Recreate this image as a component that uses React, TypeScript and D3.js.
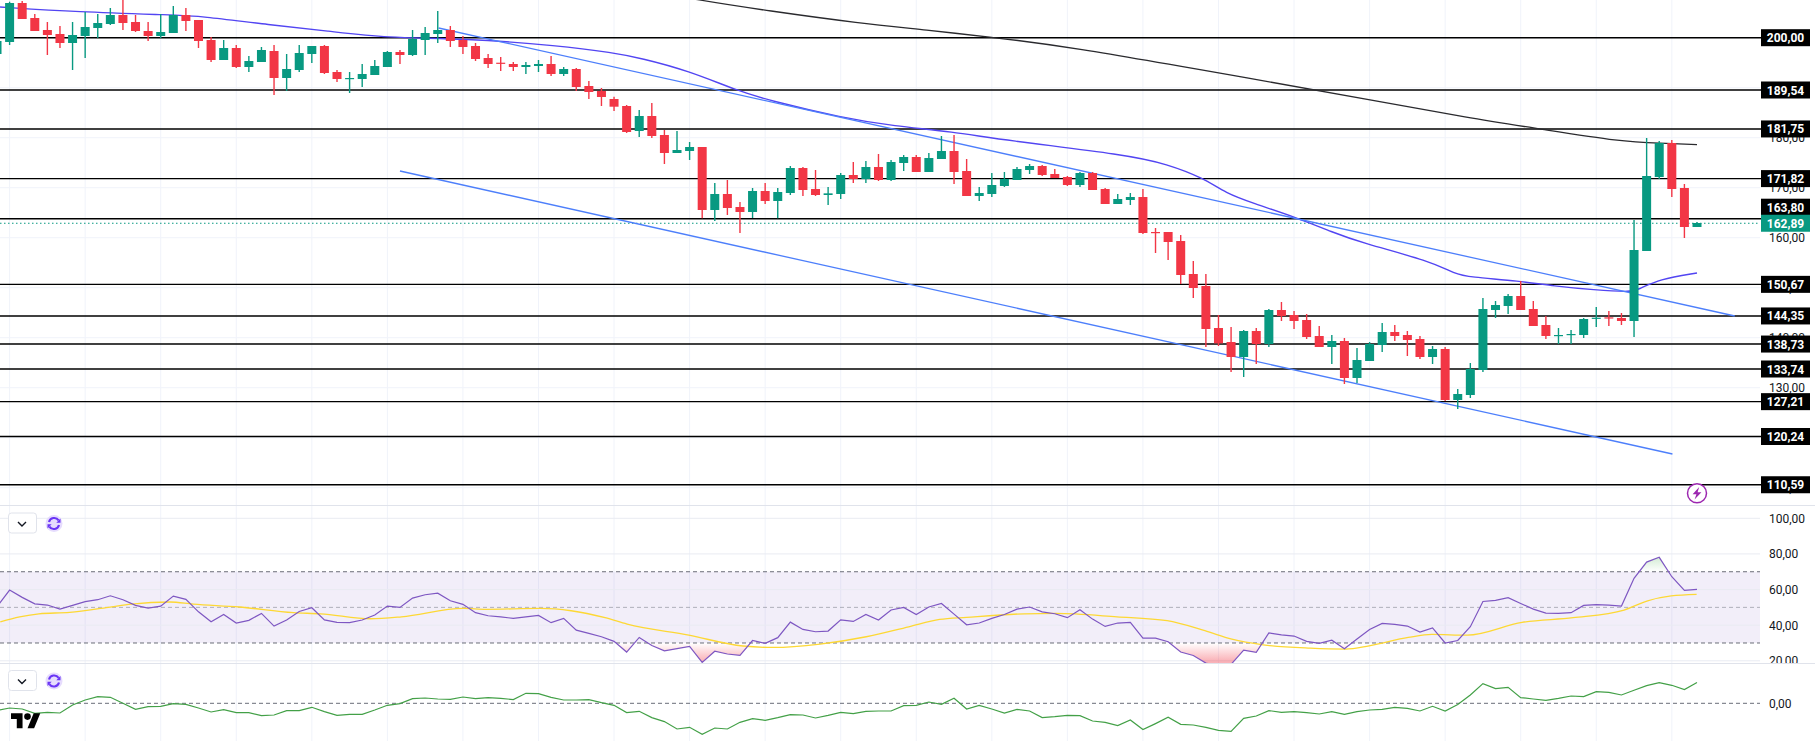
import React from 'react';
import * as d3 from 'd3';

const W = 1815;
const H = 748;

// candles, index -1 is the one cut by the left edge
const opens = [196.74,199.14,206.94,203.94,201.54,200.74,198.94,200.34,201.94,202.74,204.54,203.14,201.34,200.34,200.94,204.54,203.54,199.54,195.54,197.94,194.14,195.14,197.34,191.94,193.54,196.74,198.34,193.14,191.8,191.74,192.54,194.14,197.14,196.54,199.54,200.74,201.54,199.54,198.34,195.94,195.0,194.74,194.14,194.34,194.74,192.74,193.74,190.34,189.34,187.74,186.34,181.34,184.34,180.54,176.94,177.34,178.14,165.54,168.74,166.14,165.14,169.34,167.34,168.94,173.94,169.74,168.54,168.74,172.54,171.74,174.14,171.54,174.94,176.14,173.14,175.74,177.34,173.34,168.34,168.74,170.34,171.54,173.54,174.34,172.74,172.14,170.54,172.94,169.74,166.74,167.54,168.14,161.14,161.14,159.34,152.74,150.34,141.94,139.14,136.14,141.34,138.74,145.54,144.54,143.54,140.34,138.14,139.34,131.94,135.34,138.54,141.14,140.54,139.74,136.14,137.74,127.54,128.54,133.54,145.54,146.34,148.34,145.74,142.54,140.34,140.54,140.54,143.8,144.07,143.94,143.34,157.34,172.14,178.94,169.94,162.14];
const highs = [199.6,207.2,207.34,204.74,203.14,202.34,203.14,205.14,204.74,205.94,208.2,204.54,203.14,204.74,206.34,205.94,203.54,200.14,199.54,198.54,196.34,198.14,198.54,196.74,198.54,198.34,198.54,193.54,193.14,194.74,195.54,197.34,197.54,201.54,202.14,205.34,202.34,200.34,198.94,196.74,196.14,195.14,195.14,195.54,196.34,194.14,193.94,191.34,189.94,188.2,186.54,185.54,186.94,181.54,181.34,179.14,178.14,170.94,171.54,167.14,169.94,170.94,169.94,174.34,174.14,173.54,170.14,172.94,175.14,175.34,176.74,175.54,176.54,176.54,176.94,180.34,180.54,175.74,170.14,172.94,173.14,174.14,174.74,174.54,173.74,172.34,173.14,173.14,169.94,168.74,168.94,169.74,161.94,161.14,160.54,155.34,152.74,144.54,142.14,141.54,141.94,145.74,147.14,145.34,144.74,142.34,140.54,139.94,137.94,139.14,142.94,142.54,141.34,140.34,138.34,138.14,129.74,134.94,147.94,147.34,148.74,151.34,147.34,144.34,141.94,141.54,143.94,146.14,145.34,144.94,163.54,179.94,179.34,179.54,170.74,163.14];
const lows = [196.74,198.54,203.74,201.34,196.54,197.94,193.54,195.94,199.94,202.54,201.54,201.14,199.34,199.94,200.94,201.34,197.94,195.14,195.54,193.94,193.14,195.14,188.54,189.34,193.14,194.94,192.74,191.14,188.94,190.14,192.54,194.14,194.74,196.34,196.54,198.94,198.14,196.74,195.34,193.94,193.34,193.34,192.74,193.14,192.34,192.34,189.34,187.74,186.34,185.34,180.94,180.14,179.94,174.74,176.94,175.54,163.87,163.34,164.54,160.94,163.94,166.74,163.87,168.54,168.34,168.34,166.54,167.74,170.94,170.94,171.34,171.34,173.34,173.14,173.14,175.74,170.74,168.34,167.34,168.14,170.14,171.54,172.74,172.34,171.94,170.34,170.14,169.54,166.74,166.74,166.54,160.74,156.94,155.54,150.74,147.94,138.14,138.34,133.14,132.14,134.74,138.14,143.34,141.74,139.74,138.14,134.74,130.74,130.94,135.34,137.14,139.34,136.34,135.74,134.74,127.34,125.74,127.94,133.14,143.94,144.74,145.54,142.34,139.74,138.74,138.74,139.94,142.14,142.34,142.54,140.14,157.34,171.74,168.14,159.94,162.14];
const closes = [199.34,206.94,203.74,201.34,200.54,198.94,200.54,202.14,202.94,204.54,202.94,201.34,200.34,201.14,204.54,203.34,199.34,195.54,197.94,194.14,195.34,197.54,191.94,193.74,196.94,198.34,192.94,191.74,191.94,192.74,194.34,197.14,196.54,199.74,200.94,201.54,199.34,198.14,195.74,194.74,194.8,194.14,194.54,194.74,192.74,193.74,190.14,189.14,188.14,186.2,181.14,184.34,180.34,176.94,177.54,178.14,165.54,168.74,165.94,165.14,169.34,167.34,169.14,173.94,169.54,168.54,168.87,172.54,171.74,174.14,171.54,175.14,176.14,173.14,175.94,177.34,173.14,168.34,168.94,170.54,171.74,173.74,174.34,172.54,171.94,170.54,172.94,169.54,166.74,167.74,168.14,160.94,160.94,159.14,152.54,149.94,141.74,138.87,136.14,141.34,138.74,145.54,144.34,143.34,140.14,138.14,139.34,131.94,135.54,138.74,141.14,140.34,139.54,136.14,137.74,127.54,128.74,133.74,145.74,146.54,148.34,145.54,142.34,140.34,140.54,140.74,143.74,144.0,143.87,143.34,157.54,172.34,178.94,169.74,162.14,162.94];

// horizontal levels drawn on the chart
const levels = [200, 189.54, 181.75, 171.82, 163.8, 150.67, 144.35, 138.73, 133.74, 127.21, 120.24, 110.59];
const lastPrice = 162.89;
const priceTicks = [200, 190, 180, 170, 160, 150, 140, 130, 120, 110];
const rsiTicks = [100, 80, 60, 40, 20];

// moving averages as [candle, price] pairs
const ma50Knots: [number, number][] = [[-0.76,206.14],[5.35,205.14],[13.06,204.54],[15.1,204.34],[20.7,202.54],[25.3,201.34],[29.9,199.94],[36,199.88],[43.7,198.4],[47.9,197],[50.1,195.94],[53.9,193.4],[57.8,189.4],[60.2,187.54],[66.2,183.94],[70.2,182.34],[74.9,181.2],[78.9,179.54],[88.8,176.54],[91.9,174.74],[94.8,171.94],[96.6,168.88],[98.7,166.94],[102.3,163.94],[105,161.14],[107.4,158.94],[112.8,155.34],[114.8,152.74],[115.9,152.14],[119.9,151.34],[122.6,150.34],[125.9,149.54],[128.6,149.14],[129.3,149.54],[131,151.74],[134,152.94]];
const ma200Knots: [number, number][] = [[50.07,209.74],[54.6,207.54],[60.2,205.4],[67.5,202.88],[72.9,201.54],[77.9,200.08],[83.4,198.54],[99.5,191.42],[108.2,187.54],[115.9,183.94],[121.6,181.74],[128,179.2],[131.1,178.9],[134,178.6]];

// falling channel
const channelUpper: [number, number][] = [[34.07,201.94],[137,144.34]];
const channelLower: [number, number][] = [[31,173.34],[132.05,116.74]];

const rsi = [50.4,59.7,55.6,52.0,51.3,49.0,51.1,53.2,54.3,56.5,54.3,51.1,49.6,50.7,56.3,54.5,47.5,41.9,46.0,41.2,42.7,46.6,39.5,42.9,47.7,49.8,43.0,41.6,41.4,42.9,45.7,50.7,50.0,55.2,57.1,58.0,53.7,51.7,47.0,45.3,44.7,43.8,44.7,45.5,41.4,43.8,37.2,35.4,33.5,30.9,24.9,33.1,28.6,25.6,26.8,28.1,19.1,25.4,23.8,23.0,31.4,29.8,33.0,41.7,37.6,36.3,36.7,43.0,42.1,46.0,42.9,48.5,50.0,46.0,50.2,52.2,46.2,40.2,41.2,43.8,46.0,49.0,50.2,47.5,46.4,44.2,48.7,43.4,39.3,41.2,41.6,32.7,32.7,30.7,24.9,23.0,18.7,17,18,26.0,24.7,35.6,34.6,33.9,30.9,29.8,31.6,26.8,32.2,37.6,41.0,40.4,39.5,36.1,38.5,30.0,31.4,39.1,53.3,53.9,55.4,52.2,49.0,46.8,46.6,47.0,51.1,51.5,51.3,50.7,66.3,75.4,78.1,67.2,59.5,60.1];
const rsiMaKnots: [number, number][] = [[-0.74,41.9],[0.8,44.7],[2.33,46.4],[4.78,47.2],[7.84,50],[9.68,51.8],[12.74,53],[14.58,51.8],[18.25,50.2],[22.54,47],[24.69,46.4],[28.67,43.6],[31.12,44.7],[36.02,49.4],[37.86,48.9],[42.14,49.4],[44.59,48.1],[47.29,44.2],[49.04,40.6],[53.94,34.4],[58.23,28.3],[60.68,27.5],[64.36,29.4],[68.03,33.5],[71.4,39.1],[73.85,43.2],[76,44.4],[80.59,46.4],[83.04,46.6],[87.94,44.7],[91.92,42.5],[94.92,36.9],[97.06,32.2],[99.55,29],[103.29,27.1],[106.09,26.6],[107.96,28.4],[111.07,33.1],[112.94,34.8],[115.75,34.4],[120.11,41.6],[124.16,44.2],[128.21,48.5],[130.08,53.7],[131.95,56.4],[133.97,57.3]];

// lower oscillator, no scale is shown apart from the zero line
const osc = [-7.3,-4.7,-5.7,-10,-9,-9.7,-1.7,3.3,6.7,6,0,-6,-3.3,-3,-0.3,-1,-4.7,-8.7,-6.3,-9.3,-9.3,-12.3,-11.7,-7.3,-7.3,-4,-8.3,-12,-11,-11,-6.7,-2,-0.3,4.7,5.3,4.3,4,6.3,4.7,5.7,5,3.7,10,9.7,6,3.3,3.3,3.7,0.7,-2,-9.3,-8,-14.3,-18.3,-25.7,-24,-31,-24.7,-25.7,-19,-15.3,-17,-14.3,-11.3,-11.7,-14.7,-12,-9,-10.3,-8,-7.7,-7.7,-2.3,-2,1.3,-1,5,-5.7,-2,-5.7,-9.7,-6,-7.7,-14.3,-13.3,-12,-12.3,-17.7,-19,-22.3,-16.7,-26.3,-20.3,-14,-21,-21.7,-24,-27,-28,-15,-12.7,-7.3,-9,-8.3,-9.3,-10.7,-8.3,-11,-8.3,-6.7,-6,-4,-5,-7.7,-3,-7.7,-1.3,8.3,19.7,14.7,16,5.7,4.3,3,5,7.3,6.7,11.7,11,8.3,13,17.7,20.7,18,13.7,20.7];

const GREEN = '#089981';
const RED = '#f23645';
const GRID = '#f0f3fa';
const AXIS_FONT = 'Roboto, "Liberation Sans", sans-serif';
const PLOT_RIGHT = 1760;

const x = d3.scaleLinear().domain([0, 134]).range([9.6, 1697]);
const y = d3.scaleLinear().domain([200, 110]).range([37.7, 487.7]);
const yRsi = d3.scaleLinear().domain([100, 20]).range([518.3, 660.8]);
const yOsc = d3.scaleLinear().domain([0, 10]).range([703.3, 693.3]);

const comma = (v: number) => d3.format('.2f')(v).replace('.', ',');

const priceLine = d3.line<[number, number]>().x((d) => x(d[0])).y((d) => y(d[1])).curve(d3.curveBasis);
const rsiLine = d3.line<number>().x((_, i) => x(i - 1)).y((d) => yRsi(d));
const rsiMaLine = d3.line<[number, number]>().x((d) => x(d[0])).y((d) => yRsi(d[1])).curve(d3.curveMonotoneX);
const oscLine = d3.line<number>().x((_, i) => x(i - 1)).y((d) => yOsc(d));
const rsiLow = d3.area<number>().x((_, i) => x(i - 1)).y0(yRsi(30)).y1((d) => yRsi(d));
const rsiHigh = d3.area<number>().x((_, i) => x(i - 1)).y0(yRsi(70)).y1((d) => yRsi(d));

// vertical grid sits on every sixth candle
const gridCandles = d3.range(0, 138, 6);

const PaneButton = ({ top }: { top: number }) => (
  <g transform={`translate(0,${top})`}>
    <rect x={8.5} y={0} width={28} height={20} rx={3} fill="#fff" stroke="#e0e3eb" />
    <path d="M18 9l4 4 4-4" fill="none" stroke="#131722" strokeWidth={1.4} />
    <circle cx={54} cy={10.5} r={8.5} fill="#e6dcfd" />
    <g fill="none" stroke="#6a35f5" strokeWidth={2.1}>
      <path d="M49 9a5.3 5.3 0 0 1 9.6-1.6" />
      <path d="M59 12a5.3 5.3 0 0 1-9.6 1.6" />
    </g>
    <path d="M60.5 5.5v4.2h-4.2zM47.5 15.5v-4.2h4.2z" fill="#6a35f5" />
  </g>
);

export default function App() {
  return (
    <svg width={W} height={H} viewBox={`0 0 ${W} ${H}`} style={{ position: 'absolute', left: 0, top: 0, display: 'block', background: '#fff' }}>
      <defs>
        <clipPath id="mainClip"><rect x={0} y={0} width={PLOT_RIGHT + 1} height={505} /></clipPath>
        <clipPath id="rsiClip"><rect x={0} y={506} width={W} height={157} /></clipPath>
        <clipPath id="rsiLowClip"><rect x={0} y={yRsi(30)} width={W} height={663 - yRsi(30)} /></clipPath>
        <clipPath id="rsiHighClip"><rect x={0} y={506} width={W} height={yRsi(70) - 506} /></clipPath>
        <linearGradient id="lowFill" gradientUnits="userSpaceOnUse" x1={0} x2={0} y1={yRsi(30)} y2={yRsi(20)}>
          <stop offset="0" stopColor={RED} stopOpacity={0} />
          <stop offset="1" stopColor={RED} stopOpacity={0.38} />
        </linearGradient>
        <linearGradient id="highFill" gradientUnits="userSpaceOnUse" x1={0} x2={0} y1={yRsi(70)} y2={yRsi(80)}>
          <stop offset="0" stopColor="#4caf50" stopOpacity={0} />
          <stop offset="1" stopColor="#4caf50" stopOpacity={0.3} />
        </linearGradient>
      </defs>

      {/* grid */}
      {gridCandles.map((c) => (
        <line key={c} x1={x(c)} x2={x(c)} y1={0} y2={741} stroke={GRID} />
      ))}
      {priceTicks.map((t) => (
        <line key={t} x1={0} x2={PLOT_RIGHT} y1={y(t)} y2={y(t)} stroke={GRID} />
      ))}

      {/* main pane */}
      <g clipPath="url(#mainClip)">
        {levels.map((l) => (
          <line key={l} x1={0} x2={PLOT_RIGHT + 1} y1={y(l)} y2={y(l)} stroke="#000" strokeWidth={1.4} />
        ))}
        <line x1={0} x2={PLOT_RIGHT} y1={y(lastPrice)} y2={y(lastPrice)} stroke={GREEN} strokeDasharray="1.5 2.5" />
        <path d={priceLine(ma200Knots) || ''} fill="none" stroke="#2a2a2e" strokeWidth={1.3} />
        <path d={priceLine(ma50Knots) || ''} fill="none" stroke="#5245f2" strokeWidth={1.4} />
        <path d={priceLine(channelUpper) || ''} fill="none" stroke="#4d7ffb" strokeWidth={1.3} />
        <path d={priceLine(channelLower) || ''} fill="none" stroke="#4d7ffb" strokeWidth={1.3} />
        {opens.map((o, i) => {
          const up = closes[i] >= o;
          const color = up ? GREEN : RED;
          const cx = x(i - 1);
          const top = y(Math.max(o, closes[i]));
          const bottom = y(Math.min(o, closes[i]));
          return (
            <g key={i}>
              <line x1={cx} x2={cx} y1={y(highs[i])} y2={y(lows[i])} stroke={color} strokeWidth={1.4} />
              <rect x={cx - 4.5} y={top} width={9} height={Math.max(1.2, bottom - top)} fill={color} />
            </g>
          );
        })}
      </g>

      {/* price axis */}
      <g fontFamily={AXIS_FONT} fontSize={12} fill="#131722">
        {priceTicks.map((t) => (
          <text key={t} x={1769} y={y(t) + 4.5}>{comma(t)}</text>
        ))}
      </g>
      <g fontFamily={AXIS_FONT} fontSize={12} fontWeight={700} textAnchor="middle">
        {levels.map((l) => {
          const cy = y(l) + (l === 163.8 ? -11.5 : 0);
          return (
            <g key={l}>
              <rect x={1761} y={cy - 8.5} width={49} height={17} fill="#000" />
              <text x={1785.5} y={cy + 4.5} fill="#fff">{comma(l)}</text>
            </g>
          );
        })}
        <rect x={1761} y={y(lastPrice) - 8.5} width={49} height={17} fill={GREEN} />
        <text x={1785.5} y={y(lastPrice) + 4.5} fill="#fff">{comma(lastPrice)}</text>
      </g>

      {/* marker under the last candle */}
      <g transform={`translate(${x(134)},493.3)`}>
        <circle r={9.5} fill="#fff" stroke="#9c27b0" strokeWidth={1.5} />
        <path d="M2.2-6.2L-4.4 1H-.6L-2.4 6.2 4.4-1H.6z" fill="#9c27b0" />
      </g>

      {/* pane borders */}
      <line x1={0} x2={W} y1={505.5} y2={505.5} stroke="#e0e3eb" />
      <line x1={0} x2={W} y1={663.5} y2={663.5} stroke="#e0e3eb" />

      {/* RSI pane */}
      <rect x={0} y={yRsi(70)} width={PLOT_RIGHT} height={yRsi(30) - yRsi(70)} fill="#7e57c2" fillOpacity={0.1} />
      {rsiTicks.map((t) => (
        <line key={t} x1={0} x2={PLOT_RIGHT} y1={yRsi(t)} y2={yRsi(t)} stroke="#e9ebf2" />
      ))}
      <line x1={0} x2={PLOT_RIGHT} y1={yRsi(70)} y2={yRsi(70)} stroke="#6a6d78" strokeDasharray="4 3" />
      <line x1={0} x2={PLOT_RIGHT} y1={yRsi(50)} y2={yRsi(50)} stroke="#787b86" strokeOpacity={0.55} strokeDasharray="4 3" />
      <line x1={0} x2={PLOT_RIGHT} y1={yRsi(30)} y2={yRsi(30)} stroke="#6a6d78" strokeDasharray="4 3" />
      <g clipPath="url(#rsiClip)">
        <path d={rsiLow(rsi) || ''} fill="url(#lowFill)" clipPath="url(#rsiLowClip)" />
        <path d={rsiHigh(rsi) || ''} fill="url(#highFill)" clipPath="url(#rsiHighClip)" />
        <path d={rsiMaLine(rsiMaKnots) || ''} fill="none" stroke="#fdd835" strokeWidth={1.3} />
        <path d={rsiLine(rsi) || ''} fill="none" stroke="#7e57c2" strokeWidth={1.2} />
        <g fontFamily={AXIS_FONT} fontSize={12} fill="#131722">
          {rsiTicks.map((t) => (
            <text key={t} x={1769} y={yRsi(t) + 4.5}>{comma(t)}</text>
          ))}
        </g>
      </g>
      <PaneButton top={513} />

      {/* lower pane */}
      <line x1={0} x2={PLOT_RIGHT} y1={yOsc(0)} y2={yOsc(0)} stroke="#6a6d78" strokeDasharray="4 3" />
      <path d={oscLine(osc) || ''} fill="none" stroke="#43a047" strokeWidth={1.2} />
      <text x={1769} y={yOsc(0) + 4.5} fontFamily={AXIS_FONT} fontSize={12} fill="#131722">{comma(0)}</text>
      <PaneButton top={670.5} />

      {/* logo */}
      <g transform="translate(11,710) scale(0.825)" fill="#000">
        <path d="M14 22H7V11H0V4h14v18zM28 22h-8l7.5-18h8L28 22z" />
        <circle cx={20} cy={8} r={4} />
      </g>
    </svg>
  );
}
